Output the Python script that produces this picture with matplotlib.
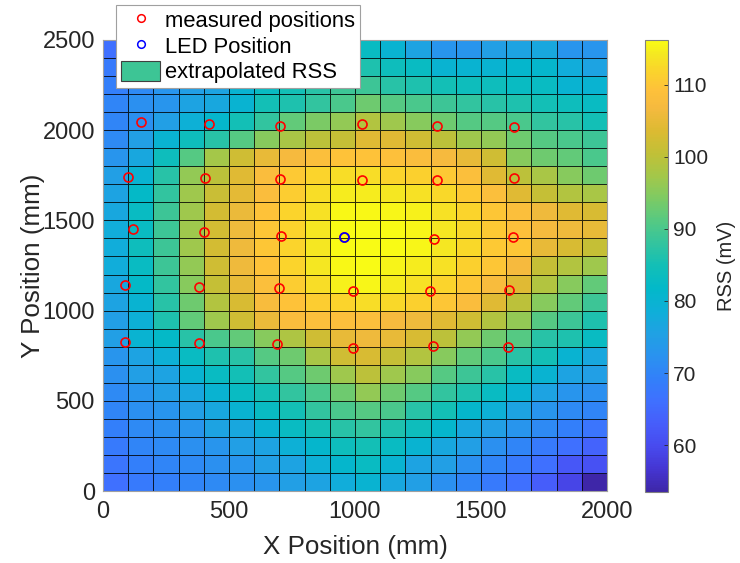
import numpy as np
import matplotlib
matplotlib.use("Agg")
import matplotlib.pyplot as plt
from matplotlib.colors import LinearSegmentedColormap
from matplotlib.lines import Line2D
from matplotlib.patches import Patch

plt.rcParams['font.family'] = ['Liberation Sans', 'DejaVu Sans']

# ---- data ----
x_edges = np.arange(0, 2001, 100)
y_edges = np.arange(0, 2501, 100)

# RSS (mV) per 100 mm cell, row 0 = bottom (y 0-100), col 0 = left (x 0-100)
rss_rows = [
    [66, 68, 69, 70, 71, 72, 73, 75, 76, 78, 80, 77, 75, 72, 70, 68, 66, 63, 59, 53.5],
    [67, 69, 70, 71, 72, 73, 75, 76, 79, 81, 83, 80, 76, 75, 72, 70, 68, 66, 62, 61],
    [68, 70, 71, 72, 73, 75, 76, 79, 81, 84, 85, 83, 80, 77, 75, 72, 70, 68, 66, 64],
    [69, 71, 72, 73, 76, 77, 80, 83, 85, 87, 88, 86, 84, 81, 77, 75, 73, 71, 69, 67],
    [70, 72, 73, 75, 77, 80, 83, 85, 88, 90, 91, 90, 87, 85, 81, 79, 76, 73, 71, 70],
    [71, 73, 75, 77, 80, 83, 85, 88, 90, 93, 96, 93, 91, 88, 86, 83, 80, 76, 73, 72],
    [72, 75, 76, 80, 83, 85, 88, 91, 93, 97, 100, 97, 95, 91, 89, 87, 83, 80, 76, 75],
    [73, 76, 79, 83, 86, 87, 91, 93, 98, 102, 103, 101, 99, 95, 92, 90, 87, 85, 80, 77],
    [75, 80, 82, 87, 90, 92, 95, 98.5, 102, 105, 106, 105, 103, 100, 96, 93, 91, 87, 86, 83],
    [75, 79, 86, 92, 97, 102, 105.5, 108, 108.5, 108.5, 108.5, 107, 106, 104, 102, 99, 96, 91, 89, 86],
    [76, 80, 87, 93, 99, 103, 107.5, 109.5, 111, 112, 113, 112.5, 111.5, 110, 108, 104, 100, 95, 92, 89],
    [77, 82, 88, 95, 101, 105, 108.5, 111, 113, 115, 115.5, 114.5, 113.5, 112, 110, 107.5, 104, 99, 95, 92],
    [78, 83, 89, 96, 102, 106, 109.5, 112, 114, 115.8, 116, 115.3, 114.5, 113.5, 111.5, 110, 107, 101, 99, 97],
    [78, 84, 89, 97, 102.5, 106, 110, 112, 114, 116, 116.2, 116, 115.5, 114, 112.5, 110.5, 110, 105, 103, 101],
    [78, 83, 89, 97, 102.5, 106, 110, 112, 114, 116, 116.1, 116.1, 115.5, 114, 112.5, 110.5, 109, 107, 106, 105],
    [77, 83, 89, 97, 102.5, 105.5, 109.5, 112, 113.5, 115.8, 115.8, 115.5, 115, 113.5, 112, 110, 108.5, 106, 104, 103],
    [76, 82, 88, 97, 101.5, 104.5, 108, 111, 113, 114.5, 114.5, 114, 113.5, 112.5, 110.5, 108.5, 104, 101, 99, 98],
    [75, 80, 87, 96, 100, 104, 108, 110.5, 112, 113, 113, 112, 111.5, 110.5, 108.5, 104, 100, 98, 95, 93],
    [73, 77, 84, 91, 97.5, 102, 105, 107, 108.5, 109.5, 109.5, 109, 108, 107, 105, 102, 95, 93, 92, 90],
    [71, 75, 80, 84, 87, 91, 95, 98, 100, 101, 104, 104, 102, 100, 97, 96, 93, 91, 90, 89],
    [70, 72, 75, 79, 81, 85, 88, 92, 94, 96, 99, 97, 95, 93, 91, 91, 90, 88, 87, 85],
    [70, 72, 73, 76, 77, 80, 85, 86, 88, 90, 93, 91, 90, 89, 88, 87, 86, 85, 84, 83],
    [69, 71, 73, 75, 76, 80, 83, 85, 87, 89, 89, 87, 86, 85, 84, 84, 83, 83, 80, 80],
    [68, 70, 72, 73, 75, 76, 78, 80, 82, 84, 86, 84, 83, 80, 80, 80, 81, 81, 78, 76],
    [66, 68, 70, 71, 72, 73, 75, 76, 78, 80, 83, 80, 76, 73, 73, 75, 76, 77, 73, 73],
]

meas_x = [150, 421, 701, 1026, 1327, 1631,
          98, 406, 702, 1026, 1327, 1631,
          119, 401, 706, 956, 1313, 1627,
          87, 382, 700, 993, 1298, 1610,
          87, 382, 689, 993, 1308, 1606]
meas_y = [2047, 2036, 2023, 2033, 2025, 2020,
          1742, 1733, 1728, 1724, 1726, 1733,
          1452, 1436, 1414, 1408, 1397, 1408,
          1142, 1133, 1124, 1109, 1110, 1113,
          828, 819, 815, 791, 804, 800]

led_x = [956]
led_y = [1408]

x_ticks = [0, 500, 1000, 1500, 2000]
y_ticks = [0, 500, 1000, 1500, 2000, 2500]
cb_ticks = [60, 70, 80, 90, 100, 110]

# ---- parula-like colormap ----
parula_pts = [
    (0.00, (0.2422, 0.1504, 0.6603)),
    (0.05, (0.2691, 0.2094, 0.8249)),
    (0.10, (0.2810, 0.2930, 0.9352)),
    (0.15, (0.2760, 0.3665, 0.9828)),
    (0.20, (0.2470, 0.4395, 0.9990)),
    (0.25, (0.1986, 0.5019, 0.9790)),
    (0.30, (0.1640, 0.5733, 0.9380)),
    (0.35, (0.1244, 0.6327, 0.8913)),
    (0.40, (0.0565, 0.6855, 0.8468)),
    (0.45, (0.0106, 0.7232, 0.7895)),
    (0.50, (0.0710, 0.7480, 0.7160)),
    (0.55, (0.1990, 0.7680, 0.6220)),
    (0.60, (0.3340, 0.7890, 0.5130)),
    (0.65, (0.4900, 0.7940, 0.3900)),
    (0.70, (0.6400, 0.7810, 0.2880)),
    (0.75, (0.7570, 0.7540, 0.2160)),
    (0.80, (0.8620, 0.7300, 0.1950)),
    (0.85, (0.9600, 0.7280, 0.2450)),
    (0.89, (0.9960, 0.7550, 0.2300)),
    (0.93, (0.9850, 0.8250, 0.1750)),
    (0.97, (0.9600, 0.9100, 0.1300)),
    (1.00, (0.9769, 0.9839, 0.0805)),
]
parula = LinearSegmentedColormap.from_list('parula', parula_pts, N=256)

# ---- figure ----
W, H = 740, 563
fig = plt.figure(figsize=(W / 100, H / 100), dpi=100)
ax = fig.add_axes([103 / W, 1 - 491 / H, 504 / W, 451 / H])

C = np.array(rss_rows)
mesh = ax.pcolormesh(x_edges, y_edges, C, cmap=parula, shading='flat',
                     edgecolors=(0, 0, 0, 0.8), linewidth=0.7)

ax.plot(meas_x, meas_y, 'o', ls='none', mfc='none', mec='red', ms=6.5, mew=1.2,
        label='measured positions', zorder=3)
ax.plot(led_x, led_y, 'o', ls='none', mfc='none', mec='blue', ms=6.5, mew=1.2,
        label='LED Position', zorder=4)

ax.set_xlim(0, 2000)
ax.set_ylim(0, 2500)
ax.set_xticks(x_ticks)
ax.set_yticks(y_ticks)
ax.tick_params(axis='both', length=0, labelsize=17, colors='#262626')
ax.tick_params(axis='x', pad=7.5)
ax.tick_params(axis='y', pad=5.8)
for s in ax.spines.values():
    s.set_color('#a0a0a0')
    s.set_linewidth(0.8)

ax.set_xlabel('X Position (mm)', fontsize=18.7, color='#262626')
ax.set_ylabel('Y Position (mm)', fontsize=18.7, color='#262626')
ax.xaxis.set_label_coords(0.5, -0.097)
ax.yaxis.set_label_coords(-0.115, 0.5)

# colorbar
cax = fig.add_axes([645 / W, 1 - 492 / H, 23 / W, 452 / H])
cb = fig.colorbar(mesh, cax=cax)
cb.set_ticks(cb_ticks)
cax.tick_params(direction='in', length=3, width=0.6, pad=3.6, labelsize=15,
                colors='#262626')
cb.outline.set_edgecolor('#808080')
cb.outline.set_linewidth(0.8)
fig.text(726 / W, 1 - 266 / H, 'RSS (mV)', rotation=90, ha='center', va='center',
         fontsize=14.5, color='#262626')

# legend
handles = [
    Line2D([], [], ls='none', marker='o', mfc='none', mec='red', ms=5.5, mew=1.1),
    Line2D([], [], ls='none', marker='o', mfc='none', mec='blue', ms=5.5, mew=1.1),
    Patch(facecolor='#3dc595', edgecolor='#404040', linewidth=0.8),
]
labels = ['measured positions', 'LED Position', 'extrapolated RSS']
leg = fig.legend(handles, labels, loc='upper left',
                 bbox_to_anchor=(116 / W, 1 - 5 / H), bbox_transform=fig.transFigure,
                 fontsize=15.8, frameon=True, fancybox=False, framealpha=1,
                 edgecolor='#a0a0a0', borderpad=0.22, labelspacing=0.15,
                 handlelength=1.8, handleheight=1.0, handletextpad=0.2,
                 borderaxespad=0)
leg.get_frame().set_linewidth(0.8)

fig.savefig('out.png', dpi=100)
